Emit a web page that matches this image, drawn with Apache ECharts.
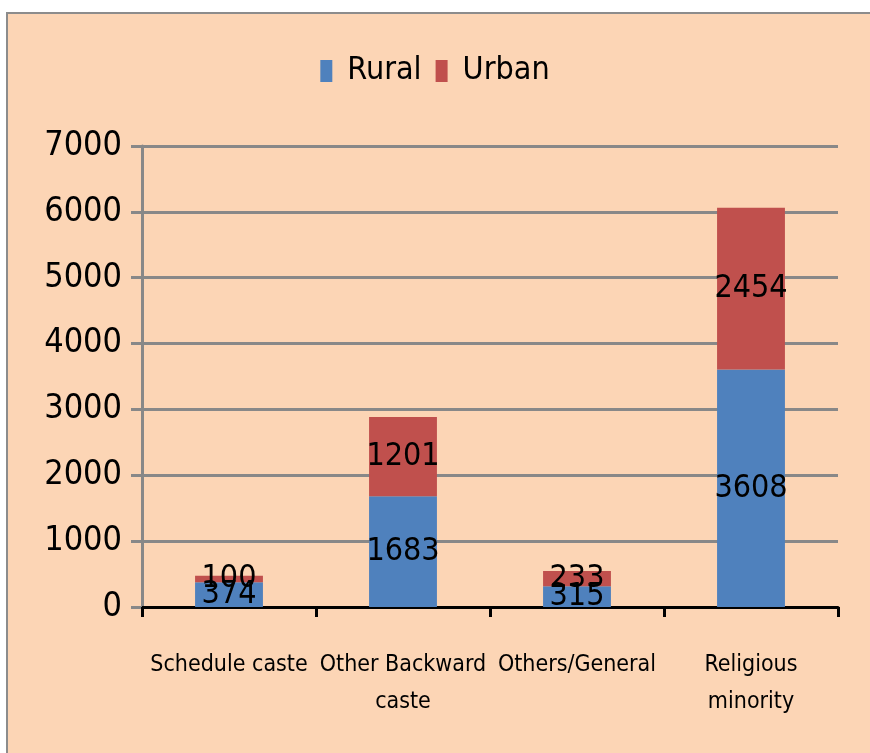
<!DOCTYPE html>
<html><head><meta charset="utf-8">
<script src="https://cdn.jsdelivr.net/npm/echarts@6/dist/echarts.min.js"></script>
<style>html,body{margin:0;padding:0;background:#fff}#c{width:870px;height:753px}</style>
</head><body><div id="c"></div>
<script>
const categories = ['Schedule caste', 'Other Backward\ncaste', 'Others/General', 'Religious\nminority'];
const rural = [374, 1683, 315, 3608];
const urban = [100, 1201, 233, 2454];
const yTicks = [0, 1000, 2000, 3000, 4000, 5000, 6000, 7000];

const FONT = '"Liberation Sans Narrow", "DejaVu Sans Condensed", sans-serif';
const chart = echarts.init(document.getElementById('c'));
chart.setOption({
  backgroundColor: '#ffffff',
  animation: false,
  graphic: [{
    type: 'rect', z: -10, silent: true,
    shape: { x: 7, y: 13, width: 900, height: 800 },
    style: { fill: '#FCD5B5', stroke: '#8c8c8c', lineWidth: 2 }
  }],
  legend: {
    top: 50, left: 'center',
    itemWidth: 12, itemHeight: 22, itemGap: 14,
    icon: 'rect',
    textStyle: { fontFamily: FONT, fontSize: 32, color: '#000', padding: [0, 0, 0, 10] },
    data: ['Rural', 'Urban']
  },
  grid: { left: 142, right: 32, top: 146, bottom: 146, containLabel: false },
  xAxis: {
    type: 'category', data: categories,
    axisLine: { lineStyle: { color: '#000', width: 3 } },
    axisTick: { show: true, length: 10, lineStyle: { color: '#000', width: 3 } },
    axisLabel: { fontFamily: FONT, fontSize: 23, color: '#000', margin: 40, lineHeight: 37, interval: 0 }
  },
  yAxis: {
    type: 'value', min: yTicks[0], max: yTicks[yTicks.length - 1], interval: 1000,
    axisLine: { show: true, lineStyle: { color: '#888', width: 3 } },
    axisTick: { show: true, length: 11, lineStyle: { color: '#888', width: 3 } },
    splitLine: { lineStyle: { color: '#888', width: 3 } },
    axisLabel: { fontFamily: FONT, fontSize: 34, color: '#000', margin: 20,
      formatter: function (v) { return String(v); } }
  },
  series: [
    { name: 'Rural', type: 'bar', stack: 's', data: rural, barWidth: '39%',
      itemStyle: { color: '#4F81BD' },
      label: { show: true, position: 'inside', fontFamily: FONT, fontSize: 32, color: '#000' } },
    { name: 'Urban', type: 'bar', stack: 's', data: urban, barWidth: '39%',
      itemStyle: { color: '#C0504D' },
      label: { show: true, position: 'inside', fontFamily: FONT, fontSize: 32, color: '#000' } }
  ]
});
</script></body></html>
